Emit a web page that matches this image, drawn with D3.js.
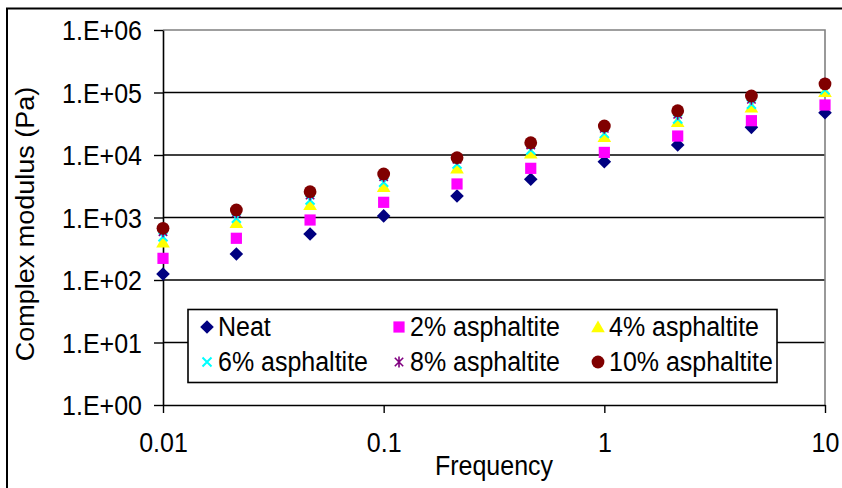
<!DOCTYPE html>
<html>
<head>
<meta charset="utf-8">
<script src="https://cdn.jsdelivr.net/npm/d3@7"></script>
<style>
  body { margin: 0; background: #fff; }
  svg text { font-family: Arial, "Liberation Sans", sans-serif; fill: #000; }
</style>
</head>
<body>
<div id="chart"></div>
<script>
// frequency points (3 per decade)
const frequencies = [0.01, 0.0215, 0.0464, 0.1, 0.215, 0.464, 1, 2.15, 4.64, 10];

// complex modulus (Pa)
const neat   = [125, 261, 545, 1060, 2210, 4090, 7810, 14500, 27700, 47500];
const pct2   = [222, 465, 912, 1750, 3440, 6120, 11000, 20100, 35400, 63100];
const pct4   = [400, 826, 1590, 3110, 6120, 10600, 19600, 34100, 58000, 103000];
const pct6   = [493, 970, 1900, 3660, 7180, 12000, 22200, 37700, 64800, 110000];
const pct8   = [593, 1190, 2290, 4500, 8530, 14500, 26700, 44800, 77900, 140000];
const pct10  = [671, 1320, 2590, 4970, 9060, 15700, 29100, 51200, 87900, 137000];

const seriesNames = ["Neat", "2% asphaltite", "4% asphaltite", "6% asphaltite", "8% asphaltite", "10% asphaltite"];
const seriesValues = [neat, pct2, pct4, pct6, pct8, pct10];

const xTickValues = [0.01, 0.1, 1, 10];
const xTickLabels = ["0.01", "0.1", "1", "10"];
const yTickValues = [1, 10, 100, 1000, 10000, 100000, 1000000];
const yTickLabels = ["1.E+00", "1.E+01", "1.E+02", "1.E+03", "1.E+04", "1.E+05", "1.E+06"];

const xTitle = "Frequency";
const yTitle = "Complex modulus (Pa)";

// ---- styling ----
const W = 842, H = 488;
const plot = { left: 163, right: 825, top: 30, bottom: 405 };
const fontSize = 25;
const stretch = 1.08; // the picture's text is a little taller than wide

const markers = [
    { shape: "diamond", color: "#000080" },
    { shape: "square", color: "#ff00ff" },
    { shape: "triangle", color: "#ffff00" },
    { shape: "cross", color: "#00ffff" },
    { shape: "star", color: "#800080" },
    { shape: "circle", color: "#800000" }
];

function markerPath(shape) {
    switch (shape) {
        case "diamond": return "M0,-6.8L6.8,0L0,6.8L-6.8,0Z";
        case "square": return "M-5.6,-5.6H5.6V5.6H-5.6Z";
        case "triangle": return "M0,-6.5L6.8,5.2L-6.8,5.2Z";
        case "cross": return "M-4.5,-4.5L4.5,4.5M4.5,-4.5L-4.5,4.5";
        case "star": return "M-4.2,-4.2L4.2,4.2M4.2,-4.2L-4.2,4.2M0,-5.5V5.5";
        default: return null;
    }
}

function drawMarker(sel, m) {
    if (m.shape === "circle") {
        sel.append("circle").attr("r", 6.4).attr("fill", m.color);
    } else if (m.shape === "cross" || m.shape === "star") {
        sel.append("path").attr("d", markerPath(m.shape))
            .attr("fill", "none").attr("stroke", m.color)
            .attr("stroke-width", m.shape === "cross" ? 2 : 1.6);
    } else {
        sel.append("path").attr("d", markerPath(m.shape)).attr("fill", m.color);
    }
}

const svg = d3.select("#chart").append("svg")
    .attr("width", W)
    .attr("height", H);

// outer frame (runs off the right and bottom edges)
svg.append("rect")
    .attr("x", 7).attr("y", 8.5)
    .attr("width", 900).attr("height", 600)
    .attr("fill", "none").attr("stroke", "#000").attr("stroke-width", 2);

const x = d3.scaleLog().domain([0.01, 10]).range([plot.left, plot.right]);
const y = d3.scaleLog().domain([1, 1e6]).range([plot.bottom, plot.top]);

// gridlines
svg.append("g")
    .selectAll("line")
    .data(yTickValues.slice(1, -1))
    .join("line")
    .attr("x1", plot.left).attr("x2", plot.right)
    .attr("y1", d => y(d)).attr("y2", d => y(d))
    .attr("stroke", "#000").attr("stroke-width", 1.6);

// plot border top/right (gray)
svg.append("path")
    .attr("d", `M${plot.left},${y(1e6)}H${x(10)}V${plot.bottom}`)
    .attr("fill", "none").attr("stroke", "#808080").attr("stroke-width", 1.6);

// y axis
const yAxis = svg.append("g")
    .attr("transform", `translate(${plot.left},0)`)
    .call(d3.axisLeft(y).tickValues(yTickValues).tickSize(9).tickSizeOuter(0)
        .tickFormat((d, i) => yTickLabels[i]));
yAxis.select(".domain").attr("stroke", "#000").attr("stroke-width", 1.6);
yAxis.selectAll(".tick line").attr("stroke", "#000").attr("stroke-width", 1.4);
yAxis.selectAll(".tick text")
    .attr("font-size", fontSize)
    .attr("x", null).attr("dy", null)
    .attr("transform", `translate(-21,${fontSize * 0.716 * stretch / 2}) scale(1,${stretch})`);

// x axis
const xAxis = svg.append("g")
    .attr("transform", `translate(0,${plot.bottom})`)
    .call(d3.axisBottom(x).tickValues(xTickValues).tickSize(8).tickSizeOuter(0)
        .tickFormat((d, i) => xTickLabels[i]));
xAxis.select(".domain").attr("stroke", "#000").attr("stroke-width", 1.6);
xAxis.selectAll(".tick line").attr("stroke", "#000").attr("stroke-width", 1.4);
xAxis.selectAll(".tick text")
    .attr("font-size", fontSize)
    .attr("y", null).attr("dy", null)
    .attr("transform", `translate(0,47) scale(1,${stretch})`);

// data points, Neat first so 10% sits on top
seriesValues.forEach((vals, s) => {
    const g = svg.append("g");
    vals.forEach((v, i) => {
        const pt = g.append("g").attr("transform", `translate(${x(frequencies[i])},${y(v)})`);
        drawMarker(pt, markers[s]);
    });
});

// axis titles
svg.append("text")
    .attr("transform", `translate(${(plot.left + plot.right) / 2},475) scale(1,${stretch})`)
    .attr("text-anchor", "middle")
    .attr("font-size", fontSize)
    .text(xTitle);

svg.append("text")
    .attr("transform", `translate(34,224) scale(1,${stretch}) rotate(-90)`)
    .attr("text-anchor", "middle")
    .attr("font-size", fontSize)
    .text(yTitle);

// legend
const legend = svg.append("g");
legend.append("rect")
    .attr("x", 188).attr("y", 309.5)
    .attr("width", 589).attr("height", 73)
    .attr("fill", "#fff").attr("stroke", "#000").attr("stroke-width", 1.6);

const legendCols = [207, 399, 598];
const legendRows = [327, 362];
seriesNames.forEach((name, i) => {
    const cx = legendCols[i % 3], cy = legendRows[Math.floor(i / 3)];
    const item = legend.append("g");
    drawMarker(item.append("g").attr("transform", `translate(${cx},${cy})`), markers[i]);
    item.append("text")
        .attr("transform", `translate(${cx + 11},${cy + 9}) scale(1,${stretch})`)
        .attr("font-size", fontSize)
        .text(name);
});
</script>
</body>
</html>
